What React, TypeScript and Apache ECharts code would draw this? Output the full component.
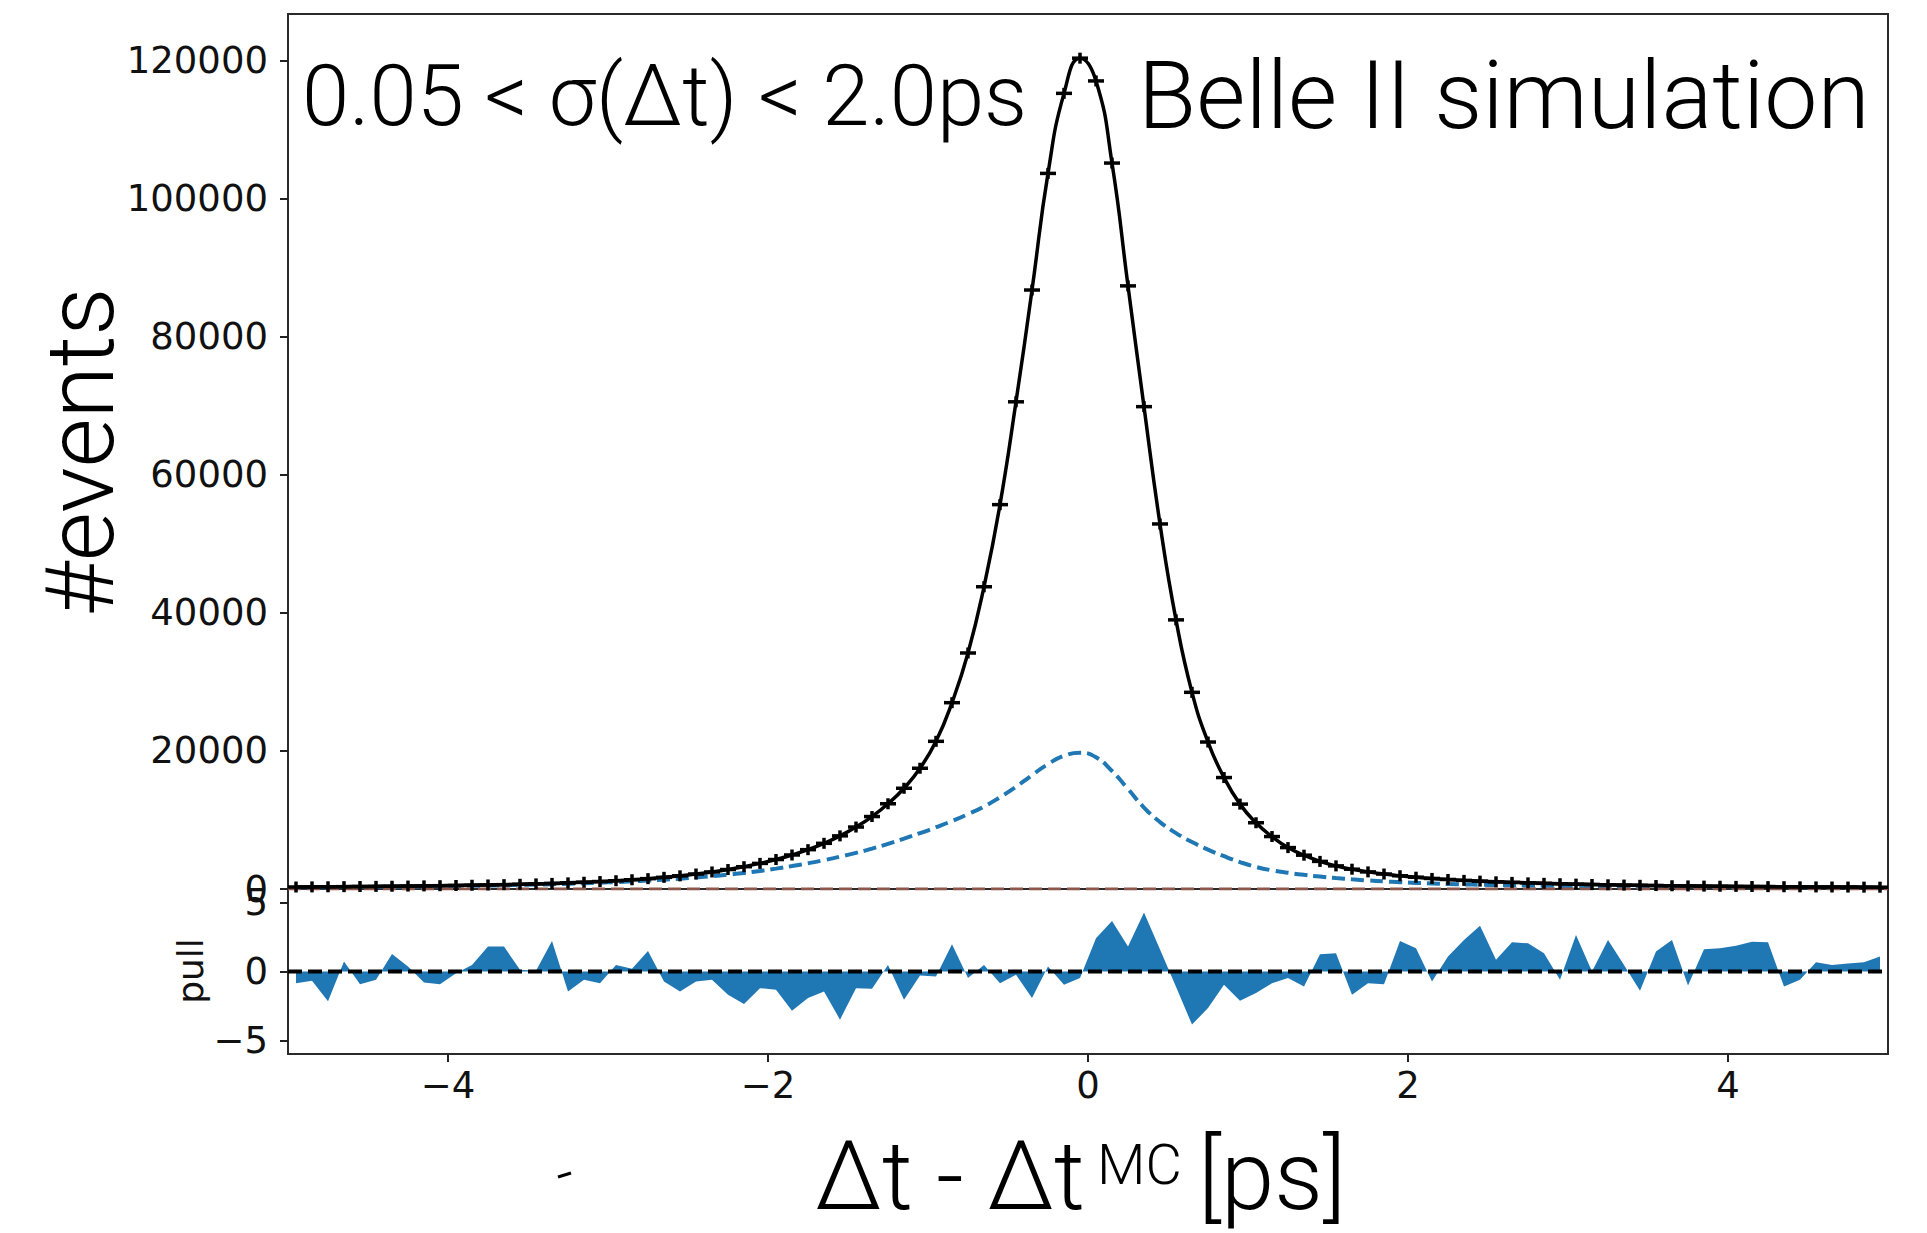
import React, { useEffect, useRef } from "react";
import * as echarts from "echarts";

// Binning: 100 bins of width 0.1 ps from -5 to 5
const BIN_LOW = -5;
const BIN_WIDTH = 0.1;
const N_BINS = 100;
const binCenters: number[] = Array.from({ length: N_BINS }, (_, i) =>
  Number((BIN_LOW + BIN_WIDTH * (i + 0.5)).toFixed(2))
);

// Event counts per bin (data points and total fit)
const counts: number[] = [
  290, 305, 320, 340, 360, 380, 400, 425, 450, 480,
  510, 545, 585, 630, 680, 740, 810, 890, 980, 1080,
  1200, 1340, 1500, 1690, 1910, 2170, 2470, 2820, 3230, 3710,
  4270, 4930, 5700, 6620, 7700, 8980, 10500, 12350, 14600, 17500,
  21400, 27000, 34200, 43800, 55700, 70600, 86800, 103700, 115300, 120400,
  117100, 105200, 87400, 69900, 52900, 39000, 28500, 21300, 16150, 12300,
  9600, 7600, 6000, 4900, 4000, 3350, 2870, 2480, 2170, 1920,
  1710, 1530, 1380, 1250, 1140, 1040, 960, 890, 820, 760,
  705, 655, 610, 570, 535, 500, 470, 445, 420, 400,
  380, 360, 345, 330, 315, 300, 290, 280, 270, 260,
];

// Wide component (blue dashed)
const wideComponent: number[] = [
  240, 255, 270, 285, 300, 320, 340, 360, 385, 410,
  440, 470, 505, 545, 590, 640, 700, 765, 840, 920,
  1010, 1110, 1220, 1350, 1500, 1670, 1860, 2080, 2330, 2620,
  2950, 3320, 3730, 4180, 4680, 5230, 5850, 6550, 7300, 8100,
  8950, 9850, 10850, 11950, 13300, 14800, 16500, 18100, 19300, 19750,
  19100, 17100, 14500, 11800, 9700, 8100, 6800, 5700, 4750, 3900,
  3200, 2700, 2350, 2050, 1800, 1580, 1400, 1240, 1100, 980,
  880, 800, 730, 670, 620, 575, 535, 500, 470, 440,
  415, 395, 375, 355, 340, 325, 310, 298, 286, 275,
  265, 255, 246, 238, 230, 222, 215, 208, 202, 196,
];

// Outlier component (brown dashed, ~0 everywhere)
const outlierX: number[] = [-5, 5];
const outlierY: number[] = [0, 0];

// Pull per bin
const pulls: number[] = [
  -0.85, -0.68, -2.17, 0.72, -0.92, -0.6, 1.28, 0.36, -0.8, -0.92,
  -0.12, 0.48, 1.81, 1.81, 0.12, 0.05, 2.22, -1.45, -0.6, -0.85,
  0.48, 0.2, 1.5, -0.72, -1.45, -0.72, -0.6, -1.69, -2.37, -1.21,
  -1.33, -2.85, -1.93, -1.45, -3.5, -1.21, -1.26, 0.48, -2.05, -0.29,
  -0.36, 1.98, -0.48, 0.48, -0.85, -0.24, -1.93, 0.36, -0.97, -0.48,
  2.42, 3.67, 1.81, 4.3, 1.6, -1.1, -3.86, -2.66, -0.97, -2.13,
  -1.57, -0.85, -0.48, -1.09, 1.26, 1.33, -1.69, -0.85, -0.92, 2.22,
  1.69, -0.72, 1.09, 2.29, 3.33, 0.85, 2.13, 2.05, 1.33, -0.6,
  2.66, 0, 2.29, 0.48, -1.4, 1.45, 2.29, -1.01, 1.62, 1.69,
  1.88, 2.17, 2.13, -1.09, -0.6, 0.68, 0.48, 0.58, 0.68, 1.09,
];

const xTicks = [-4, -2, 0, 2, 4];
const yMainTicks = [0, 20000, 40000, 60000, 80000, 100000, 120000];
const pullTicks = [-5, 0, 5];

const TICK_FONT = "'DejaVu Sans', sans-serif";
const TEXT_FONT = "Roboto, 'Noto Sans', sans-serif";
const minusFmt = (v: number) => String(v).replace("-", "\u2212");

export default function App() {
  const ref = useRef<HTMLDivElement>(null);

  useEffect(() => {
    if (!ref.current) return;
    const chart = echarts.init(ref.current, undefined, { renderer: "svg" });

    const axisLabelBase = {
      fontFamily: TICK_FONT,
      fontSize: 37,
      color: "#111",
    };
    const tickStyle = { color: "#222", width: 2 };

    const option: any = {
      animation: false,
      backgroundColor: "#ffffff",
      grid: [
        { left: 288, top: 14, width: 1600, height: 875, show: true, borderColor: "#2a2a2a", borderWidth: 2, backgroundColor: "transparent" },
        { left: 288, top: 889, width: 1600, height: 165, show: true, borderColor: "#2a2a2a", borderWidth: 2, backgroundColor: "transparent" },
      ],
      xAxis: [
        {
          type: "value", gridIndex: 0, min: -5, max: 5,
          axisLine: { show: false, onZero: false }, axisTick: { show: false },
          axisLabel: { show: false }, splitLine: { show: false },
        },
        {
          type: "value", gridIndex: 1, min: -5, max: 5,
          axisLine: { show: false, onZero: false },
          axisTick: { show: true, customValues: xTicks, length: 8, lineStyle: tickStyle },
          axisLabel: { ...axisLabelBase, customValues: xTicks, margin: 13, formatter: minusFmt },
          splitLine: { show: false },
        },
      ],
      yAxis: [
        {
          type: "value", gridIndex: 0, min: 0, max: 126800,
          axisLine: { show: false, onZero: false },
          axisTick: { show: true, customValues: yMainTicks, length: 8, lineStyle: tickStyle },
          axisLabel: { ...axisLabelBase, customValues: yMainTicks, margin: 20, formatter: minusFmt },
          splitLine: { show: false },
        },
        {
          type: "value", gridIndex: 1, min: -6, max: 6,
          axisLine: { show: false, onZero: false },
          axisTick: { show: true, customValues: pullTicks, length: 8, lineStyle: tickStyle },
          axisLabel: { ...axisLabelBase, customValues: pullTicks, margin: 20, formatter: minusFmt },
          splitLine: { show: false },
        },
      ],
      series: [
        {
          name: "wide",
          type: "line", xAxisIndex: 0, yAxisIndex: 0,
          data: binCenters.map((x, i) => [x, wideComponent[i]]),
          showSymbol: false, smooth: true,
          lineStyle: { color: "#1f77b4", width: 4, type: [13, 6] },
          z: 2,
        },
        {
          name: "outlier",
          type: "line", xAxisIndex: 0, yAxisIndex: 0,
          data: outlierX.map((x, i) => [x, outlierY[i]]),
          showSymbol: false,
          lineStyle: { color: "#8c564b", width: 3, type: [13, 6] },
          z: 3,
        },
        {
          name: "fit",
          type: "line", xAxisIndex: 0, yAxisIndex: 0,
          data: binCenters.map((x, i) => [x, counts[i]]),
          showSymbol: false, smooth: true,
          lineStyle: { color: "#000", width: 3.5 },
          z: 4,
        },
        {
          name: "data",
          type: "custom", xAxisIndex: 0, yAxisIndex: 0,
          data: binCenters.map((x, i) => [x, counts[i]]),
          encode: { x: 0, y: 1 },
          renderItem: (params: any, api: any) => {
            const x = api.value(0);
            const y = api.value(1);
            const l = api.coord([x - BIN_WIDTH / 2, y]);
            const r = api.coord([x + BIN_WIDTH / 2, y]);
            const c = api.coord([x, y]);
            return {
              type: "group",
              children: [
                { type: "line", shape: { x1: l[0], y1: l[1], x2: r[0], y2: r[1] }, style: { stroke: "#000", lineWidth: 3.5 } },
                { type: "line", shape: { x1: c[0], y1: c[1] - 5.5, x2: c[0], y2: c[1] + 5.5 }, style: { stroke: "#000", lineWidth: 3.5 } },
              ],
            };
          },
          z: 5,
        },
        {
          name: "pull",
          type: "line", xAxisIndex: 1, yAxisIndex: 1,
          data: binCenters.map((x, i) => [x, pulls[i]]),
          showSymbol: false,
          lineStyle: { width: 0, color: "#1f77b4" },
          areaStyle: { color: "#1f77b4", opacity: 1, origin: 0 },
          z: 2,
        },
        {
          name: "zero",
          type: "line", xAxisIndex: 1, yAxisIndex: 1,
          data: [[-5, 0], [5, 0]],
          showSymbol: false,
          lineStyle: { color: "#000", width: 4, type: [14, 6] },
          z: 3,
        },
      ],
      graphic: [
        {
          type: "text", x: 302, y: 96,
          style: { text: "0.05 < σ(Δt) < 2.0ps", fontFamily: TEXT_FONT, fontWeight: 300, fontSize: 85, fill: "#000", align: "left", verticalAlign: "middle" },
        },
        {
          type: "text", x: 1138, y: 95,
          style: { text: "Belle II simulation", fontFamily: TEXT_FONT, fontWeight: 300, fontSize: 95, fill: "#000", align: "left", verticalAlign: "middle" },
        },
        {
          type: "text", x: 80, y: 452, rotation: Math.PI / 2,
          style: { text: "#events", fontFamily: TEXT_FONT, fontWeight: 300, fontSize: 95, fill: "#000", align: "center", verticalAlign: "middle" },
        },
        {
          type: "text", x: 190, y: 971, rotation: Math.PI / 2,
          style: { text: "pull", fontFamily: TICK_FONT, fontSize: 36, fill: "#111", align: "center", verticalAlign: "middle" },
        },
        {
          type: "text", x: 815, y: 1176,
          style: { text: "Δt - Δt", fontFamily: TEXT_FONT, fontWeight: 300, fontSize: 96, fill: "#000", align: "left", verticalAlign: "middle" },
        },
        {
          type: "text", x: 1097, y: 1165,
          style: { text: "MC", fontFamily: TEXT_FONT, fontWeight: 300, fontSize: 56, fill: "#000", align: "left", verticalAlign: "middle" },
        },
        {
          type: "text", x: 1198, y: 1176,
          style: { text: "[ps]", fontFamily: TEXT_FONT, fontWeight: 300, fontSize: 96, fill: "#000", align: "left", verticalAlign: "middle" },
        },
        {
          type: "line",
          shape: { x1: 558, y1: 1177, x2: 571, y2: 1173 },
          style: { stroke: "#000", lineWidth: 3 },
        },
      ],
    };

    chart.setOption(option);
    return () => chart.dispose();
  }, []);

  return (
    <div
      ref={ref}
      style={{ position: "fixed", left: 0, top: 0, width: 1927, height: 1233, background: "#fff" }}
    />
  );
}
